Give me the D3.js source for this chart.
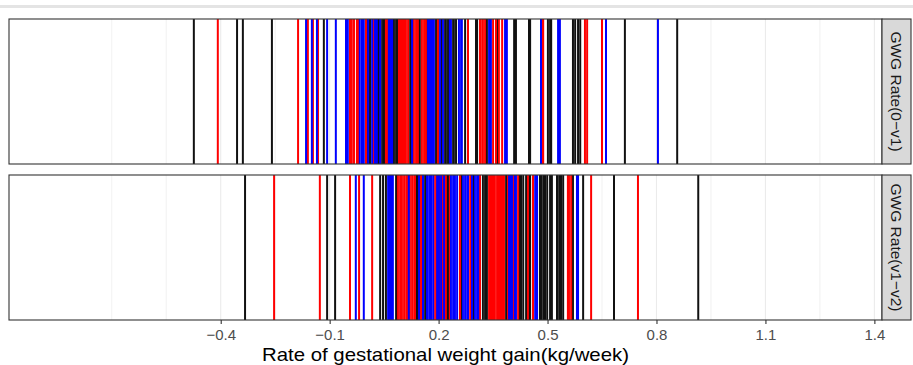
<!DOCTYPE html>
<html>
<head>
<meta charset="utf-8">
<script src="https://cdn.jsdelivr.net/npm/d3@7"></script>
<style>
  body { margin: 0; background: #fff; }
  text { font-family: "Liberation Sans", Arial, sans-serif; }
</style>
</head>
<body>
<div id="area"></div>
<script>
// gwg rate values (kg/week), one array per panel and colour group
var topBlack = [-0.474, -0.355, -0.339, -0.259, -0.116, 0.003, 0.011, 0.033, 0.036, 0.041, 0.047,
  0.052, 0.077, 0.083, 0.085, 0.088, 0.118, 0.124, 0.140, 0.146, 0.152, 0.168, 0.193, 0.198,
  0.209, 0.218, 0.220, 0.226, 0.240, 0.242, 0.248, 0.273, 0.303, 0.306, 0.333, 0.361, 0.408,
  0.413, 0.449, 0.452, 0.501, 0.507, 0.510, 0.570, 0.576, 0.584, 0.590, 0.713, 0.857];
var topRed = [-0.408, -0.187, -0.160, -0.146, -0.132, -0.044, -0.039, -0.033, -0.025, -0.022,
  -0.008, 0.000, 0.019, 0.022, 0.055, 0.058, 0.091, 0.096, 0.099, 0.102, 0.105, 0.107, 0.110,
  0.116, 0.132, 0.138, 0.143, 0.154, 0.160, 0.165, 0.185, 0.198, 0.281, 0.314, 0.320, 0.322,
  0.328, 0.350, 0.358, 0.366, 0.375, 0.485, 0.488, 0.603, 0.609, 0.650];
var topBlue = [-0.165, -0.149, -0.135, -0.107, -0.083, -0.055, -0.050, -0.017, -0.011, -0.006,
  0.006, 0.017, 0.025, 0.030, 0.039, 0.063, 0.066, 0.069, 0.072, 0.127, 0.171, 0.174, 0.179,
  0.182, 0.187, 0.204, 0.212, 0.231, 0.234, 0.256, 0.262, 0.264, 0.339, 0.344, 0.383, 0.388,
  0.482, 0.529, 0.534, 0.661, 0.804];

var botBlack = [-0.333, -0.107, -0.085, 0.039, 0.047, 0.055, 0.083, 0.116, 0.140, 0.143, 0.163,
  0.165, 0.223, 0.226, 0.264, 0.295, 0.322, 0.328, 0.333, 0.386, 0.388, 0.424, 0.427, 0.433,
  0.441, 0.449, 0.452, 0.479, 0.482, 0.488, 0.493, 0.499, 0.507, 0.512, 0.526, 0.532, 0.537,
  0.543, 0.570, 0.598, 0.683, 0.915];
var botRed = [-0.253, -0.127, -0.044, -0.019, 0.017, 0.088, 0.094, 0.099, 0.105, 0.107, 0.113,
  0.121, 0.127, 0.129, 0.135, 0.149, 0.154, 0.187, 0.193, 0.204, 0.212, 0.220, 0.231, 0.259,
  0.287, 0.314, 0.339, 0.342, 0.347, 0.350, 0.355, 0.361, 0.364, 0.369, 0.372, 0.377, 0.380,
  0.391, 0.405, 0.419, 0.446, 0.460, 0.556, 0.559, 0.565, 0.620, 0.749];
var botBlue = [-0.028, -0.006, 0.061, 0.066, 0.069, 0.072, 0.074, 0.118, 0.146, 0.157, 0.168,
  0.174, 0.176, 0.179, 0.185, 0.196, 0.201, 0.207, 0.215, 0.234, 0.240, 0.245, 0.251, 0.267,
  0.273, 0.275, 0.281, 0.292, 0.300, 0.306, 0.309, 0.394, 0.397, 0.399, 0.402, 0.410, 0.413,
  0.466, 0.468, 0.471, 0.581, 0.584];

var panelNames = ["GWG Rate(0\u2212v1)", "GWG Rate(v1\u2212v2)"];
var xBreaks = [-0.4, -0.1, 0.2, 0.5, 0.8, 1.1, 1.4];
var xMinor = [-0.7, -0.55, -0.25, 0.05, 0.35, 0.65, 0.95, 1.25];

var panels = [
  { name: panelNames[0], groups: [[topBlack, "#111111"], [topRed, "#ff0000"], [topBlue, "#0000ff"]] },
  { name: panelNames[1], groups: [[botBlack, "#111111"], [botRed, "#ff0000"], [botBlue, "#0000ff"]] }
];

var width = 913, height = 365;
var left = 9, right = 882, stripW = 29;
var panelTop = [19, 175], panelH = 145;

var x = d3.scaleLinear().domain([-0.983, 1.421]).range([left, right]);

var svg = d3.select("#area").append("svg")
  .attr("width", width)
  .attr("height", height);

// faint band at very top
svg.append("rect")
  .attr("x", 0).attr("y", 5).attr("width", width).attr("height", 3)
  .attr("fill", "#e4e4e4");

panels.forEach(function (p, i) {
  var g = svg.append("g").attr("transform", "translate(0," + panelTop[i] + ")");

  g.selectAll("line.minor").data(xMinor).enter().append("line")
    .attr("x1", function (d) { return x(d); }).attr("x2", function (d) { return x(d); })
    .attr("y1", 0).attr("y2", panelH)
    .attr("stroke", "#ebebeb").attr("stroke-width", 0.7);
  g.selectAll("line.major").data(xBreaks).enter().append("line")
    .attr("x1", function (d) { return x(d); }).attr("x2", function (d) { return x(d); })
    .attr("y1", 0).attr("y2", panelH)
    .attr("stroke", "#ebebeb").attr("stroke-width", 1.1);

  p.groups.forEach(function (grp) {
    g.append("g").selectAll("line").data(grp[0]).enter().append("line")
      .attr("x1", function (d) { return x(d); }).attr("x2", function (d) { return x(d); })
      .attr("y1", 0).attr("y2", panelH)
      .attr("stroke", grp[1]).attr("stroke-width", 2);
  });

  g.append("rect")
    .attr("x", left).attr("y", 0).attr("width", right - left).attr("height", panelH)
    .attr("fill", "none").attr("stroke", "#333333").attr("stroke-width", 1.1);

  // facet strip
  g.append("rect")
    .attr("x", right).attr("y", 0).attr("width", stripW).attr("height", panelH)
    .attr("fill", "#d9d9d9").attr("stroke", "#333333").attr("stroke-width", 1.1);
  g.append("text")
    .attr("transform", "translate(" + (right + stripW / 2) + "," + panelH / 2 + ") rotate(90)")
    .attr("text-anchor", "middle")
    .attr("dominant-baseline", "central")
    .attr("fill", "#1a1a1a")
    .style("font-size", "15.5px")
    .text(p.name);
});

var xAxis = d3.axisBottom(x)
  .tickValues(xBreaks)
  .tickSize(4)
  .tickPadding(5)
  .tickFormat(d3.format(".1f"));

var axisG = svg.append("g")
  .attr("transform", "translate(0," + (panelTop[1] + panelH) + ")")
  .call(xAxis);
axisG.select(".domain").remove();
axisG.selectAll(".tick line").attr("stroke", "#333333").attr("stroke-width", 1.1);
axisG.selectAll(".tick text")
  .attr("fill", "#4d4d4d")
  .style("font-size", "15px")
  .style("font-family", "'Liberation Sans', Arial, sans-serif");

svg.append("text")
  .attr("x", (left + right) / 2)
  .attr("y", 361)
  .attr("text-anchor", "middle")
  .attr("fill", "#000")
  .attr("textLength", 367)
  .attr("lengthAdjust", "spacingAndGlyphs")
  .style("font-size", "18.5px")
  .text("Rate of gestational weight gain(kg/week)");
</script>
</body>
</html>
